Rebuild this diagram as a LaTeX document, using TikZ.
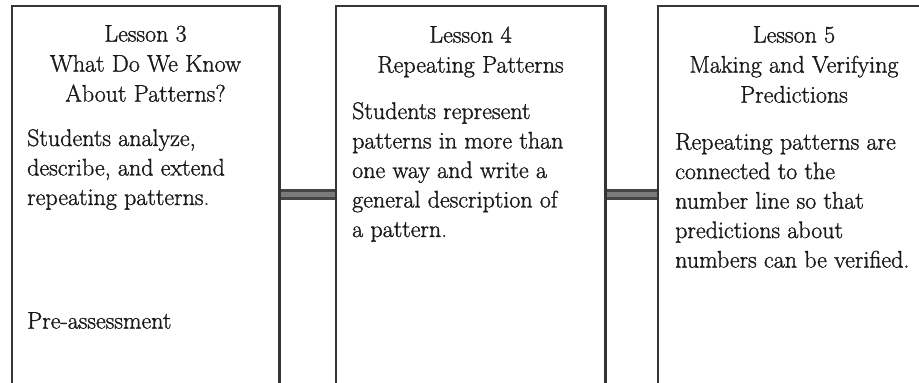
\documentclass[tikz,border=0pt]{standalone}
\usepackage{fontspec}
\setmainfont{Latin Modern Roman}[RawFeature={embolden=1.2}]
\definecolor{boxc}{HTML}{353535}
\definecolor{barout}{HTML}{454545}
\definecolor{barin}{HTML}{7A7A7A}
\definecolor{txt}{HTML}{1A1A1A}
\begin{document}
\begin{tikzpicture}[x=1pt,y=-1pt,
  frame/.style={draw=none, inner sep=0pt, minimum height=382pt, anchor=north west},
  boxline/.style={draw=boxc, line width=2.8pt},
  barouter/.style={draw=barout, line width=11pt},
  barinner/.style={draw=barin, line width=5pt},
  title/.style={anchor=north, align=center, inner sep=0pt, font=\fontsize{24}{30}\selectfont, text=txt},
  body/.style={anchor=north west, align=left, inner sep=0pt, font=\fontsize{24}{29.5}\selectfont, text=txt}]
\useasboundingbox (0,0) rectangle (919,383);
\clip (0,0) rectangle (919,383);
\fill[white] (0,0) rectangle (919,383);
% frames
\node[frame, minimum width=267pt] (b1) at (12,6) {};
\node[frame, minimum width=269pt] (b2) at (336,6) {};
\node[frame, minimum width=272pt] (b3) at (658,6) {};
% connectors
\draw[barouter] ([yshift=-188pt]b1.north east) -- ([yshift=-188pt]b2.north west);
\draw[barinner] ([yshift=-188pt]b1.north east) -- ([yshift=-188pt]b2.north west);
\draw[barouter] ([yshift=-188pt]b2.north east) -- ([yshift=-188pt]b3.north west);
\draw[barinner] ([yshift=-188pt]b2.north east) -- ([yshift=-188pt]b3.north west);
% box outlines (open at bottom)
\foreach \b in {b1,b2,b3}
  \draw[boxline, line join=miter] (\b.south west) -- (\b.north west) -- (\b.north east) -- (\b.south east);
% texts
\node[title] (t1) at (145.5,25) {Lesson 3\\What Do We Know\\About Patterns?};
\node[body] (d1) at (27,129) {Students analyze,\\describe, and extend\\repeating patterns.};
\node[body] (p1) at (27,312) {Pre-assessment};
\node[title] (t2) at (470.5,26) {Lesson 4\\Repeating Patterns};
\node[body] (d2) at (352,102) {Students represent\\patterns in more than\\one way and write a\\general description of\\a pattern.};
\node[title] (t3) at (794,26) {Lesson 5\\Making and Verifying\\Predictions};
\node[body] (d3) at (675,133) {Repeating patterns are\\connected to the\\number line so that\\predictions about\\numbers can be verified.};
\end{tikzpicture}
\end{document}
